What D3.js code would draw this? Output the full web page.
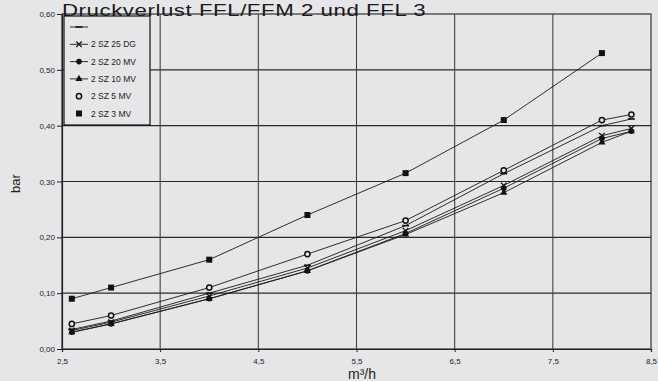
<!DOCTYPE html>
<html>
<head>
<meta charset="utf-8">
<script src="https://cdn.jsdelivr.net/npm/d3@7"></script>
<style>
  body { margin: 0; background: #e6e6e8; }
  svg { display: block; font-family: "Liberation Sans", Arial, sans-serif; }
</style>
</head>
<body>
<svg id="chart"></svg>
<script>
// flow values (m³/h)
const flow = [2.6, 3.0, 4.0, 5.0, 6.0, 7.0, 8.0, 8.3];

// pressure loss (bar) per series
const sBlank = [0.035, 0.05, 0.10, 0.15, 0.221, 0.314, 0.40, 0.412];
const sz25dg = [0.033, 0.048, 0.095, 0.145, 0.212, 0.293, 0.382, 0.395];
const sz20mv = [0.03, 0.045, 0.09, 0.14, 0.207, 0.288, 0.377, 0.39];
const sz10mv = [0.03, 0.045, 0.09, 0.14, 0.205, 0.28, 0.37, 0.39];
const sz5mv = [0.045, 0.06, 0.11, 0.17, 0.23, 0.32, 0.41, 0.42];
const sz3mv = [0.09, 0.11, 0.16, 0.24, 0.315, 0.41, 0.53];

const seriesNames = ["", "2 SZ 25 DG", "2 SZ 20 MV", "2 SZ 10 MV", "2 SZ 5 MV", "2 SZ 3 MV"];
const seriesValues = [sBlank, sz25dg, sz20mv, sz10mv, sz5mv, sz3mv];
const seriesMarkers = ["dash", "x", "circle", "triangle", "open", "square"];

const xTicks = [2.5, 3.5, 4.5, 5.5, 6.5, 7.5, 8.5];
const yTicks = [0, 0.1, 0.2, 0.3, 0.4, 0.5, 0.6];

const title = "Druckverlust FFL/FFM 2 und FFL 3";

const W = 658, H = 381;
const margin = { top: 14, right: 7, bottom: 32, left: 62 };
const width = W - margin.left - margin.right;
const height = H - margin.top - margin.bottom;

const svg = d3.select("#chart").attr("width", W).attr("height", H);

svg.append("rect").attr("width", W).attr("height", H).attr("fill", "#e6e6e8");

const g = svg.append("g")
    .attr("transform", `translate(${margin.left},${margin.top})`);

const x = d3.scaleLinear([2.5, 8.5], [0, width]);
const y = d3.scaleLinear([0, 0.6], [height, 0]);

const comma = f => v => f(v).replace(".", ",");

// grid
g.append("g").selectAll("line")
    .data(yTicks.slice(1, -1))
    .join("line")
    .attr("x1", 0).attr("x2", width)
    .attr("y1", d => y(d)).attr("y2", d => y(d))
    .attr("stroke", "#2a2a2a").attr("stroke-width", 1.1);

g.append("g").selectAll("line")
    .data(xTicks.slice(1, -1))
    .join("line")
    .attr("x1", d => x(d)).attr("x2", d => x(d))
    .attr("y1", 0).attr("y2", height)
    .attr("stroke", "#444").attr("stroke-width", 1.1);

// frame
g.append("rect")
    .attr("width", width).attr("height", height)
    .attr("fill", "none").attr("stroke", "#333").attr("stroke-width", 1.2);

// axes
const yAxis = g.append("g")
    .call(d3.axisLeft(y).tickValues(yTicks).tickFormat(comma(d3.format(".2f"))).tickSize(5).tickPadding(2));
const xAxis = g.append("g")
    .attr("transform", `translate(0,${height})`)
    .call(d3.axisBottom(x).tickValues(xTicks).tickFormat(comma(d3.format(".1f"))).tickSize(3).tickPadding(6));

[yAxis, xAxis].forEach(a => {
    a.select(".domain").attr("stroke", "#222").attr("stroke-width", 1.2);
    a.selectAll(".tick line").attr("stroke", "#222");
    a.selectAll(".tick text").attr("fill", "#222").style("font-size", "8px")
        .style("font-family", "'Liberation Sans', Arial, sans-serif");
});

// axis labels
svg.append("text")
    .attr("transform", `translate(20,${margin.top + height / 2 + 2}) rotate(-90)`)
    .attr("text-anchor", "middle")
    .attr("fill", "#222")
    .style("font-size", "13px")
    .text("bar");

svg.append("text")
    .attr("x", 362).attr("y", 379)
    .attr("text-anchor", "middle")
    .attr("fill", "#222")
    .style("font-size", "14px")
    .text("m³/h");

// title: smaller and stretched so it stays inside the top edge
svg.append("text")
    .attr("transform", "translate(62,15.5) scale(1.35,1)")
    .attr("fill", "#1a1a1a")
    .style("font-size", "16.5px")
    .style("letter-spacing", "0.4px")
    .text(title);

// markers
function drawMarker(sel, type) {
    if (type === "square") {
        sel.append("rect").attr("x", -3).attr("y", -3).attr("width", 6).attr("height", 6).attr("fill", "#111");
    } else if (type === "circle") {
        sel.append("circle").attr("r", 2.8).attr("fill", "#111");
    } else if (type === "open") {
        sel.append("circle").attr("r", 2.6).attr("fill", "#e6e6e8").attr("stroke", "#111").attr("stroke-width", 1.5);
    } else if (type === "triangle") {
        sel.append("path").attr("d", d3.symbol(d3.symbolTriangle, 22)()).attr("fill", "#111");
    } else if (type === "x") {
        sel.append("path").attr("d", d3.symbol(d3.symbolX || d3.symbolCross, 22)())
            .attr("fill", "none").attr("stroke", "#111").attr("stroke-width", 1.3);
    } else if (type === "dash") {
        sel.append("line").attr("x1", -3.5).attr("x2", 3.5).attr("stroke", "#111").attr("stroke-width", 1.6);
    }
}

const line = d3.line().x(d => x(d[0])).y(d => y(d[1]));

seriesValues.forEach((vals, i) => {
    const pts = vals.map((v, j) => [flow[j], v]);
    g.append("path")
        .datum(pts)
        .attr("fill", "none")
        .attr("stroke", "#1a1a1a")
        .attr("stroke-width", 0.9)
        .attr("d", line);
    g.append("g").selectAll("g")
        .data(pts)
        .join("g")
        .attr("transform", d => `translate(${x(d[0])},${y(d[1])})`)
        .each(function () { drawMarker(d3.select(this), seriesMarkers[i]); });
});

// legend
const legend = svg.append("g").attr("transform", "translate(64,16)");
legend.append("rect")
    .attr("width", 86).attr("height", 109)
    .attr("fill", "#e6e6e8").attr("stroke", "#111").attr("stroke-width", 1.2);

seriesNames.forEach((name, i) => {
    const row = legend.append("g").attr("transform", `translate(0,${11 + i * 17.3})`);
    if (i < 4) {
        row.append("line").attr("x1", 6).attr("x2", 24)
            .attr("stroke", "#1a1a1a").attr("stroke-width", 0.9);
    }
    const m = row.append("g").attr("transform", "translate(15,0)");
    drawMarker(m, seriesMarkers[i]);
    row.append("text")
        .attr("x", 27).attr("y", 3)
        .attr("fill", "#222")
        .style("font-size", "8.5px")
        .text(name);
});
</script>
</body>
</html>
